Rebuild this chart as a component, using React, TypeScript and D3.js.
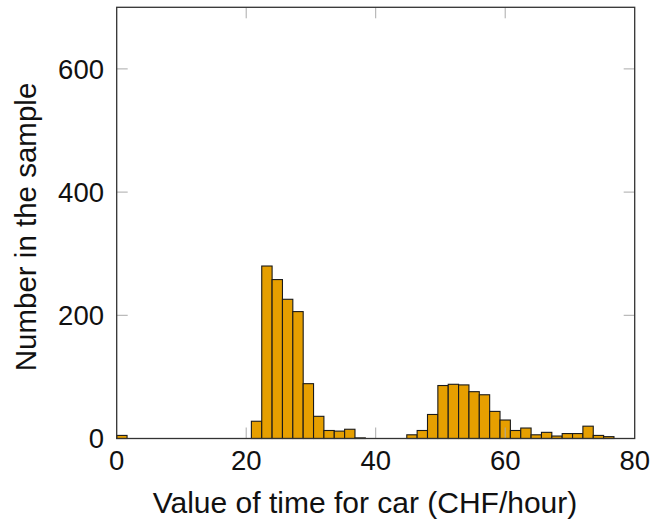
import React from "react";
import * as d3 from "d3";

// Histogram: bins of width 1.6 CHF/hour starting at 0
const binWidth = 1.6;
const counts = [
  5, 0, 0, 0, 0, 0, 0, 0, 0, 0, 0, 0, 0, 28, 280, 258, 226, 206, 89, 36,
  13, 12, 15, 1, 0, 0, 0, 0, 6, 13, 39, 86, 88, 87, 76, 71, 44, 30, 13, 17,
  6, 10, 4, 8, 8, 20, 5, 3,
];
const xTicks = [0, 20, 40, 60, 80];
const yTicks = [0, 200, 400, 600];
const xLabel = "Value of time for car (CHF/hour)";
const yLabel = "Number in the sample";

const W = 653;
const H = 523;
const left = 116.7;
const right = 634.7;
const top = 7.3;
const bottom = 438.5;
const FONT = "'Liberation Sans', Arial, sans-serif";

export default function App() {
  const x = d3.scaleLinear().domain([0, 80]).range([left, right]);
  const y = d3.scaleLinear().domain([0, 700]).range([bottom, top]);
  const bins = counts.map((c, i) => ({ x0: i * binWidth, x1: (i + 1) * binWidth, c }));
  const tickLen = 11;
  return (
    <svg
      width={W}
      height={H}
      style={{ position: "absolute", left: 0, top: 0, background: "#fff" }}
      fontFamily={FONT}
    >
      {bins
        .filter((b) => b.c > 0)
        .map((b, i) => (
          <rect
            key={i}
            x={x(b.x0)}
            y={y(b.c)}
            width={x(b.x1) - x(b.x0)}
            height={y(0) - y(b.c)}
            fill="#E69F00"
            stroke="#1a1a1a"
            strokeWidth={1.1}
          />
        ))}
      {/* ticks */}
      {xTicks.slice(1, -1).map((t) => (
        <g key={"xt" + t} stroke="#aaaaaa" strokeWidth={1}>
          <line x1={x(t)} x2={x(t)} y1={bottom} y2={bottom - tickLen} />
          <line x1={x(t)} x2={x(t)} y1={top} y2={top + tickLen} />
        </g>
      ))}
      {yTicks.slice(1).map((t) => (
        <g key={"yt" + t} stroke="#aaaaaa" strokeWidth={1}>
          <line x1={left} x2={left + tickLen} y1={y(t)} y2={y(t)} />
          <line x1={right} x2={right - tickLen} y1={y(t)} y2={y(t)} />
        </g>
      ))}
      <rect
        x={left}
        y={top}
        width={right - left}
        height={bottom - top}
        fill="none"
        stroke="#333"
        strokeWidth={1.3}
      />
      {xTicks.map((t) => (
        <text key={"xl" + t} x={x(t)} y={470} textAnchor="middle" fontSize={27.5} fill="#111">
          {t}
        </text>
      ))}
      {yTicks.map((t) => (
        <text
          key={"yl" + t}
          x={104}
          y={y(t)}
          dy="0.35em"
          textAnchor="end"
          fontSize={27.5}
          fill="#111"
        >
          {t}
        </text>
      ))}
      <text x={365} y={513} textAnchor="middle" fontSize={30} fill="#111">
        {xLabel}
      </text>
      <text
        transform={`translate(36, 227) rotate(-90)`}
        textAnchor="middle"
        fontSize={29.5}
        fill="#111"
      >
        {yLabel}
      </text>
    </svg>
  );
}
